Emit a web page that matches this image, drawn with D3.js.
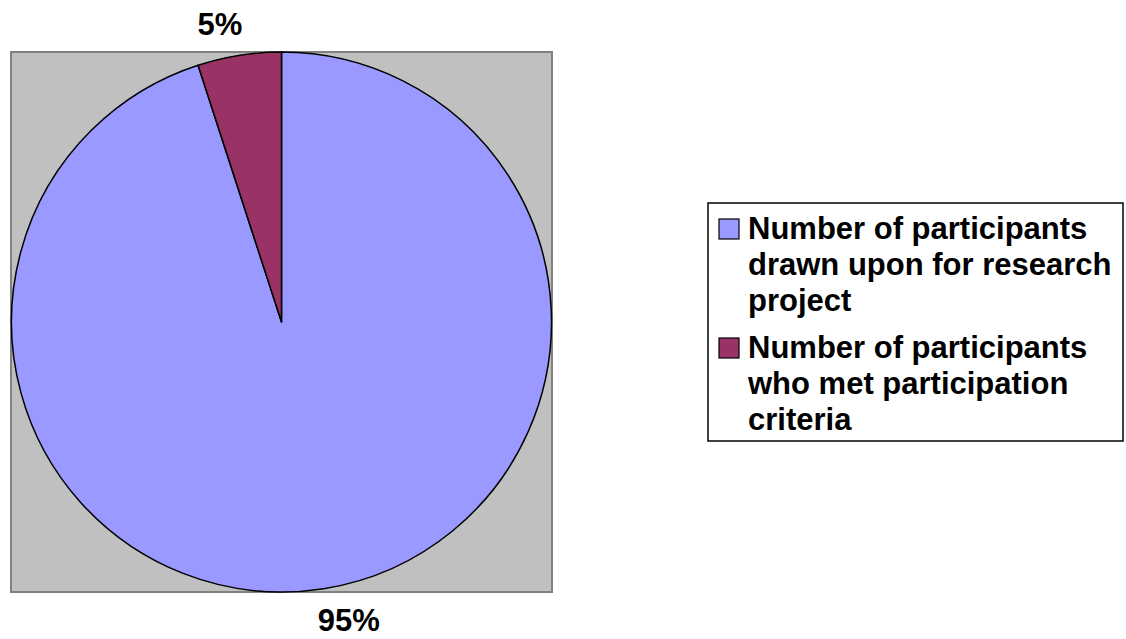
<!DOCTYPE html>
<html>
<head>
<meta charset="utf-8">
<title>Participants pie</title>
<script src="https://d3js.org/d3.v7.min.js"></script>
<style>
	body { margin: 0; background: #fff; }
	text { font-family: "Liberation Sans", Arial, sans-serif; font-weight: bold; fill: #000; }
</style>
</head>
<body>
<script>

	// data
	var categories = ["Number of participants drawn upon for research project",
		"Number of participants who met participation criteria"];
	var values = [95, 5];
	var sliceLabels = ["95%", "5%"];
	var colors = ["#9999FF", "#993366"];

	var width = 1126, height = 639;
	var fontSize = 31;

	// plot area (grey square) and pie
	var plot = { x: 11, y: 52, w: 541, h: 540 };
	var cx = plot.x + plot.w / 2, cy = plot.y + plot.h / 2;
	var radius = 270;

	var svg = d3.select("body").append("svg")
		.attr("width", width)
		.attr("height", height);

	svg.append("rect")
		.attr("x", plot.x).attr("y", plot.y)
		.attr("width", plot.w).attr("height", plot.h)
		.attr("fill", "#C0C0C0")
		.attr("stroke", "#808080")
		.attr("stroke-width", 2);

	var pie = d3.pie().sort(null).value(function (d) { return d; });
	var arc = d3.arc().innerRadius(0).outerRadius(radius);
	var arcs = pie(values);

	var g = svg.append("g").attr("transform", "translate(" + cx + "," + cy + ")");

	g.selectAll("path.slice")
		.data(arcs)
		.enter().append("path")
		.attr("class", "slice")
		.attr("d", arc)
		.attr("fill", function (d, i) { return colors[i]; })
		.attr("stroke", "#000")
		.attr("stroke-width", 1.5)
		.attr("stroke-linejoin", "round");

	// percent labels, sitting just outside the rim at the slice's mid angle
	g.selectAll("text.pct")
		.data(arcs)
		.enter().append("text")
		.attr("class", "pct")
		.style("font-size", fontSize + "px")
		.each(function (d, i) {
			var a = (d.startAngle + d.endAngle) / 2;
			var px = Math.sin(a) * radius, py = -Math.cos(a) * radius;
			var t = d3.select(this).text(sliceLabels[i]);
			if (px >= 0) t.attr("text-anchor", "start").attr("x", px - 6);
			else t.attr("text-anchor", "end").attr("x", px + 3);
			if (py >= 0) t.attr("y", py + 42);
			else t.attr("y", py - 20);
		});

	// legend
	var legend = { x: 708, y: 203, w: 415, h: 238 };
	var lineH = 36, wrapW = 370;

	svg.append("rect")
		.attr("x", legend.x).attr("y", legend.y)
		.attr("width", legend.w).attr("height", legend.h)
		.attr("fill", "#fff")
		.attr("stroke", "#000")
		.attr("stroke-width", 1.5);

	function wrapLines(str) {
		var probe = svg.append("text").style("font-size", fontSize + "px");
		var words = str.split(" "), lines = [], cur = "";
		words.forEach(function (w) {
			var test = cur ? cur + " " + w : w;
			probe.text(test);
			if (probe.node().getComputedTextLength() > wrapW && cur) {
				lines.push(cur);
				cur = w;
			} else {
				cur = test;
			}
		});
		if (cur) lines.push(cur);
		probe.remove();
		return lines;
	}

	var baseY = 239;
	categories.forEach(function (name, i) {
		var lines = wrapLines(name);
		svg.append("rect")
			.attr("x", 719).attr("y", baseY - 20)
			.attr("width", 20).attr("height", 20)
			.attr("fill", colors[i])
			.attr("stroke", "#000")
			.attr("stroke-width", 1.2);
		var t = svg.append("text")
			.attr("x", 748).attr("y", baseY)
			.style("font-size", fontSize + "px");
		lines.forEach(function (ln, k) {
			t.append("tspan")
				.attr("x", 748)
				.attr("dy", k === 0 ? 0 : lineH)
				.text(ln);
		});
		baseY += lines.length * lineH + 11;
	});

</script>
</body>
</html>
